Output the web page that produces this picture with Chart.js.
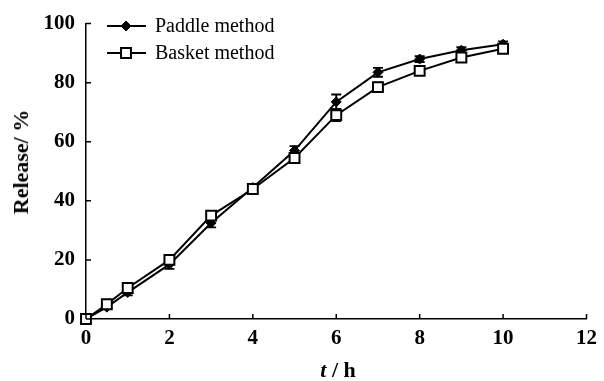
<!DOCTYPE html>
<html>
<head>
<meta charset="utf-8">
<script src="https://cdn.jsdelivr.net/npm/chart.js@4"></script>
<style>
  html, body { margin: 0; padding: 0; background: #fff; }
  #wrap { position: relative; width: 604px; height: 381px; }
  .axis-title { position: absolute; font-family: "Liberation Serif", "Times New Roman", serif; font-weight: bold; font-size: 22px; color: #000; white-space: nowrap; }
  #xTitle { left: 338px; top: 370px; transform: translate(-50%, -50%); }
  #yTitle { left: 21px; top: 162px; transform: translate(-50%, -50%) rotate(-90deg); }
</style>
</head>
<body>
<div id="wrap">
  <canvas id="chart" width="604" height="381"></canvas>
  <div id="xTitle" class="axis-title"><i>t</i> / h</div>
  <div id="yTitle" class="axis-title">Release/ %</div>
</div>
<script>
// sampling times (h)
const times = [0, 0.5, 1, 2, 3, 4, 5, 6, 7, 8, 9, 10];
// cumulative release (%)
const paddle = [0, 4, 9, 18.5, 32.5, 44.5, 57, 73.5, 83.5, 88, 91, 93];
const paddleErr = [0, 0.5, 1, 1.5, 1.5, 1, 1.5, 2.5, 1.5, 1, 1, 1];
const basket = [0, 5, 10.5, 20, 35, 44, 54.5, 69, 78.5, 84, 88.5, 91.5];
const basketErr = [0, 0.5, 1, 1, 1, 1, 1, 2, 1.5, 1, 1, 1];
const seriesNames = ['Paddle method', 'Basket method'];

const serif = '"Liberation Serif", "Times New Roman", serif';

function toPoints(vals) {
  return times.map((t, i) => ({ x: t, y: vals[i] }));
}

// error bars, drawn under the markers
const errorBars = {
  id: 'errorBars',
  beforeDatasetsDraw(chart) {
    const { ctx, scales: { x, y } } = chart;
    const errs = [paddleErr, basketErr];
    const vals = [paddle, basket];
    ctx.save();
    ctx.strokeStyle = '#000';
    ctx.lineWidth = 1.8;
    errs.forEach((err, s) => {
      times.forEach((t, i) => {
        if (!err[i]) return;
        const px = x.getPixelForValue(t);
        const top = y.getPixelForValue(vals[s][i] + err[i]);
        const bot = y.getPixelForValue(vals[s][i] - err[i]);
        ctx.beginPath();
        ctx.moveTo(px, top); ctx.lineTo(px, bot);
        ctx.moveTo(px - 5, top); ctx.lineTo(px + 5, top);
        ctx.moveTo(px - 5, bot); ctx.lineTo(px + 5, bot);
        ctx.stroke();
      });
    });
    ctx.restore();
  }
};

// inward tick marks + legend inside the plot
const extras = {
  id: 'extras',
  afterDraw(chart) {
    const { ctx, chartArea: a, scales: { x, y } } = chart;
    ctx.save();
    ctx.strokeStyle = '#000';
    ctx.lineWidth = 1.5;
    ctx.beginPath();
    x.ticks.forEach(t => {
      const px = x.getPixelForValue(t.value);
      ctx.moveTo(px, a.bottom); ctx.lineTo(px, a.bottom - 5);
    });
    y.ticks.forEach(t => {
      const py = y.getPixelForValue(t.value);
      ctx.moveTo(a.left, py); ctx.lineTo(a.left + 5, py);
    });
    ctx.stroke();

    // legend
    const rows = [26, 53];
    chart.data.datasets.forEach((ds, i) => {
      const ly = rows[i];
      ctx.lineWidth = 2;
      ctx.strokeStyle = '#000';
      ctx.beginPath();
      ctx.moveTo(107, ly); ctx.lineTo(146, ly);
      ctx.stroke();
      ctx.fillStyle = ds.pointBackgroundColor;
      ctx.strokeStyle = ds.pointBorderColor;
      ctx.lineWidth = ds.pointBorderWidth;
      Chart.helpers.drawPoint(ctx, {
        pointStyle: ds.pointStyle,
        rotation: 0,
        radius: ds.pointRadius,
        borderWidth: ds.pointBorderWidth
      }, 126, ly);
      ctx.fillStyle = '#000';
      ctx.font = '20px ' + serif;
      ctx.textBaseline = 'middle';
      ctx.fillText(ds.label, 155, ly + 1);
    });
    ctx.restore();
  }
};

new Chart(document.getElementById('chart'), {
  type: 'line',
  data: {
    datasets: [
      {
        label: seriesNames[0],
        data: toPoints(paddle),
        borderColor: '#000',
        borderWidth: 2,
        pointStyle: 'rectRot',
        pointRadius: 5,
        pointBackgroundColor: '#000',
        pointBorderColor: '#000',
        pointBorderWidth: 1,
        tension: 0,
        clip: false,
        order: 1
      },
      {
        label: seriesNames[1],
        data: toPoints(basket),
        borderColor: '#000',
        borderWidth: 2,
        pointStyle: 'rect',
        pointRadius: 7,
        pointBackgroundColor: '#fff',
        pointBorderColor: '#000',
        pointBorderWidth: 2,
        tension: 0,
        clip: false,
        order: 0
      }
    ]
  },
  options: {
    responsive: false,
    animation: false,
    layout: { padding: { left: 0, right: 14, top: 22, bottom: 0 } },
    plugins: { legend: { display: false }, tooltip: { enabled: false } },
    scales: {
      x: {
        type: 'linear',
        min: 0, max: 12,
        ticks: { stepSize: 2, padding: 7, color: '#000', font: { family: serif, size: 21, weight: 'bold' } },
        grid: { display: false, drawTicks: false },
        border: { color: '#000', width: 1.5 },
        afterFit(scale) { scale.height = 62; }
      },
      y: {
        min: 0, max: 100,
        ticks: { stepSize: 20, padding: 11, color: '#000', font: { family: serif, size: 21, weight: 'bold' } },
        grid: { display: false, drawTicks: false },
        border: { color: '#000', width: 1.5 },
        afterFit(scale) { scale.width = 86; }
      }
    }
  },
  plugins: [errorBars, extras]
});
</script>
</body>
</html>
